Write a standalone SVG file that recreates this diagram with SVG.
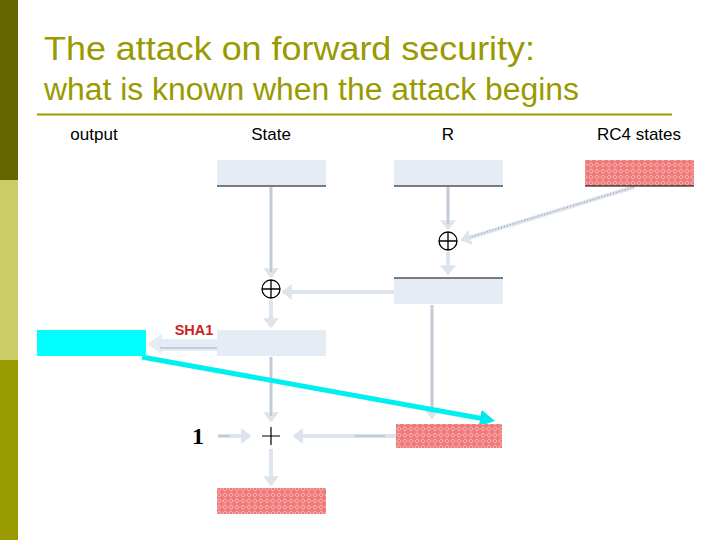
<svg xmlns="http://www.w3.org/2000/svg" width="720" height="540" viewBox="0 0 720 540">
<style>
.title{font-family:"Liberation Sans",Arial,sans-serif;fill:#999900}
.lbl{font-family:"Liberation Sans",Arial,sans-serif;font-size:17px;fill:#000}
.lt{fill:#e6ecf5}
.edge{stroke:#000;stroke-width:1.2}
.conn{stroke:#dde4ee;stroke-width:4;fill:none}
.core{stroke:#a8b0be;stroke-width:1;fill:none}
.xor{fill:#fff;stroke:#000;stroke-width:1.3}
</style>
<defs>
<pattern id="hatch" width="6" height="6" patternUnits="userSpaceOnUse">
<rect width="6" height="6" fill="#f07a7a"/>
<path d="M3 0.8 L5.2 3 L3 5.2 L0.8 3 Z" fill="none" stroke="#fbd0d0" stroke-width="0.7"/>
</pattern>
<marker id="ah" markerWidth="4" markerHeight="4" refX="2.2" refY="2" orient="auto" markerUnits="strokeWidth">
<path d="M0,0 L2.5,2 L0,4 Z" fill="#dde4ee"/>
</marker>
<marker id="ahc" markerWidth="4" markerHeight="4" refX="2" refY="2" orient="auto" markerUnits="strokeWidth">
<path d="M0,0.3 L3,2 L0,3.7 Z" fill="#00e8f0"/>
</marker>
</defs>
<rect width="720" height="540" fill="#fff"/>
<rect x="0" y="0" width="18" height="180" fill="#666600"/>
<rect x="0" y="180" width="18" height="180" fill="#cccc66"/>
<rect x="0" y="360" width="18" height="180" fill="#999900"/>
<text class="title" x="44" y="60" font-size="34" textLength="491" lengthAdjust="spacingAndGlyphs">The attack on forward security:</text>
<text class="title" x="44" y="100" font-size="31" textLength="535" lengthAdjust="spacingAndGlyphs">what is known when the attack begins</text>
<line x1="37" y1="114.5" x2="672" y2="114.5" stroke="#999900" stroke-width="2"/>
<text class="lbl" x="94" y="140" text-anchor="middle">output</text>
<text class="lbl" x="271" y="140" text-anchor="middle">State</text>
<text class="lbl" x="448" y="140" text-anchor="middle">R</text>
<text class="lbl" x="639" y="140" text-anchor="middle">RC4 states</text>
<g id="connectors">
<line class="conn" x1="271" y1="187" x2="271" y2="277" marker-end="url(#ah)"/>
<line class="core" x1="271" y1="187" x2="271" y2="272"/>
<line class="conn" x1="448" y1="187" x2="448" y2="229" marker-end="url(#ah)"/>
<line class="core" x1="448" y1="187" x2="448" y2="224"/>
<line class="conn" x1="448" y1="252" x2="448" y2="274" marker-end="url(#ah)"/>
<line class="conn" x1="634" y1="187" x2="462" y2="240" stroke-width="5" marker-end="url(#ah)"/>
<line x1="634" y1="187" x2="470" y2="237" stroke="#6a7080" stroke-width="0.8" stroke-dasharray="1,2"/>
<line class="conn" x1="394" y1="292" x2="283" y2="292" marker-end="url(#ah)"/>
<line class="conn" x1="271" y1="300" x2="271" y2="327" marker-end="url(#ah)"/>
<polygon points="147,344 162,334 162,339 217,339 217,351 162,351 162,354" fill="#e6ecf5"/>
<line class="core" x1="160" y1="348" x2="217" y2="348" stroke="#8890a0"/>
<line class="conn" x1="271" y1="357" x2="271" y2="421" marker-end="url(#ah)"/>
<line class="core" x1="271" y1="357" x2="271" y2="416"/>
<line class="conn" x1="218" y1="436" x2="250" y2="436" marker-end="url(#ah)"/>
<line class="core" x1="218" y1="436" x2="230" y2="436"/>
<line class="conn" x1="396" y1="436" x2="294" y2="436" marker-end="url(#ah)"/>
<line class="core" x1="355" y1="436" x2="385" y2="436"/>
<line class="conn" x1="271" y1="449" x2="271" y2="485" marker-end="url(#ah)"/>
<line class="conn" x1="432" y1="305" x2="432" y2="418" marker-end="url(#ah)"/>
<line class="core" x1="432" y1="305" x2="432" y2="413"/>
<line x1="142" y1="357" x2="490" y2="420" stroke="#00f0f0" stroke-width="5" marker-end="url(#ahc)"/>
</g>
<g id="state"><rect class="lt" x="217" y="160" width="109" height="26"/><line class="edge" x1="217" y1="186" x2="326" y2="186"/></g>
<g id="r"><rect class="lt" x="394" y="160" width="109" height="26"/><line class="edge" x1="394" y1="186" x2="503" y2="186"/></g>
<g id="rc4"><rect x="585" y="160" width="109" height="26" fill="url(#hatch)"/><line class="edge" x1="585" y1="186" x2="694" y2="186"/></g>
<g id="xor1"><circle class="xor" cx="448" cy="241" r="9"/><path d="M439 241H457M448 232V250" stroke="#000" stroke-width="1.3"/></g>
<g id="r2"><rect class="lt" x="394" y="278" width="109" height="26"/><line class="edge" x1="394" y1="278" x2="503" y2="278"/></g>
<g id="xor2"><circle class="xor" cx="271" cy="289" r="9"/><path d="M262 289H280M271 280V298" stroke="#000" stroke-width="1.3"/></g>
<g id="sha1box"><rect class="lt" x="217" y="330" width="109" height="26"/></g>
<g id="output"><rect x="37" y="330" width="109" height="26" fill="#00ffff"/></g>
<text x="194" y="335" text-anchor="middle" font-family="Liberation Sans,Arial,sans-serif" font-size="14.5" font-weight="bold" fill="#cc2222">SHA1</text>
<g id="plus"><path d="M262 436H280M271 427V445" stroke="#000" stroke-width="1.2"/></g>
<text x="198" y="444" text-anchor="middle" font-family="Liberation Serif,serif" font-size="24" font-weight="bold">1</text>
<g id="rc4b"><rect x="396" y="424" width="106" height="24" fill="url(#hatch)"/></g>
<g id="bottom"><rect x="217" y="488" width="109" height="26" fill="url(#hatch)"/></g>
</svg>
